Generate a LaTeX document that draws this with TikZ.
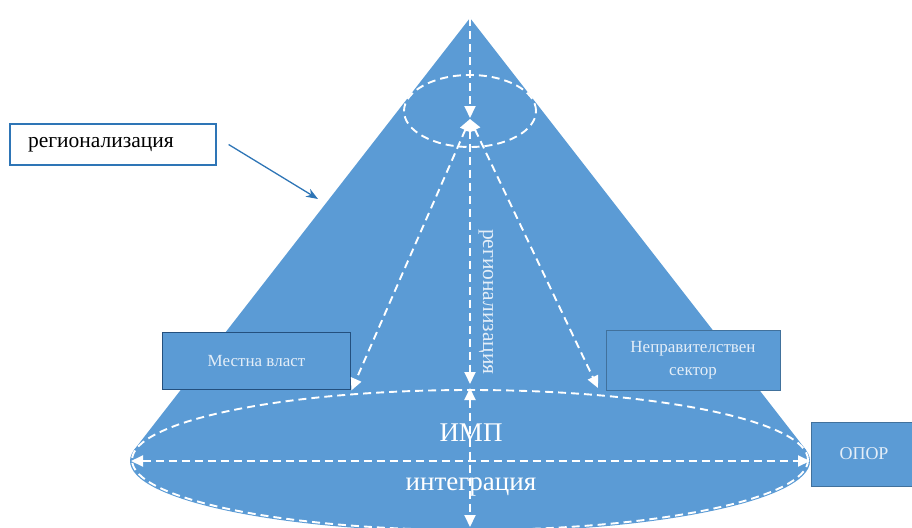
\documentclass[tikz,border=0pt]{standalone}
\usepackage{fontspec}
\setmainfont{Liberation Serif}
\usetikzlibrary{arrows.meta}

\definecolor{conefill}{HTML}{5B9BD5}
\definecolor{boxline}{HTML}{41719C}
\definecolor{darkline}{HTML}{24507E}
\definecolor{callout}{HTML}{2E75B6}
\definecolor{lighttext}{HTML}{E4EEF8}

\tikzset{
  wdash/.style={draw=white, dash pattern=on 8pt off 5pt, line width=1.9pt},
  warrow/.style={wdash, {Triangle[length=12pt,width=11pt]}-{Triangle[length=12pt,width=11pt]}},
  box/.style={draw=boxline, fill=conefill, line width=1pt, text=lighttext, inner sep=2pt, align=center},
}

\begin{document}
\begin{tikzpicture}[x=1pt,y=1pt]
				\useasboundingbox (0,-527) rectangle (912,0);

				% cone
				\coordinate (apex) at (470,-18);
				\coordinate (tl) at (134,-450);
				\coordinate (tr) at (806,-450);
				\fill[conefill] (apex) -- (tl) -- (tr) -- cycle;
				\fill[conefill] (470,-461) ellipse [x radius=340, y radius=71];

				% Dashed lines
				\draw[wdash] (470,-111) ellipse [x radius=66, y radius=36];
				\draw[wdash] (470,-460) ellipse [x radius=338, y radius=70];

				% boxes
				\node[box, draw=darkline, line width=1.8pt, minimum width=188pt, minimum height=57pt, font=\fontsize{17}{20}\selectfont] (mestna) at (256.5,-361) {Местна власт};
				\node[box, minimum width=174pt, minimum height=60pt, font=\fontsize{17}{23}\selectfont] (nepr) at (693,-360) {Неправителствен\\сектор};
				\node[box, minimum width=106pt, minimum height=64pt, font=\fontsize{18}{20}\selectfont] (opor) at (864,-454) {ОПОР};
				\node[draw=callout, line width=1.2pt, fill=white, text width=170pt, inner xsep=18pt, align=left, minimum height=41pt, font=\fontsize{21.5}{24}\selectfont] (reg) at (113,-144.5) {регионализация};

				% arrows
				\coordinate (hubtop) at (470,-118);
				\coordinate (hub) at (470,-119);
				\coordinate (mid) at (470,-384);
				\coordinate (base) at (470,-388);
				\coordinate (bot) at (470,-527);
				\coordinate (west) at (131,-461);
				\coordinate (east) at (810,-461);
				\coordinate (nepr tip) at (598,-388);
				\coordinate (slope) at (318,-199);
				\draw[wdash, -{Triangle[length=12pt,width=11pt]}] (apex) -- (hubtop);
				\draw[warrow] (hub) -- (mestna.south east);
				\draw[warrow] (hub) -- (mid);
				\draw[warrow] (hub) -- (nepr tip);
				\draw[warrow] (base) -- (bot);
				\draw[warrow] (west) -- (east);
				\draw[callout, line width=1.3pt, -{Stealth[length=12pt,width=9pt]}] ([xshift=12pt]reg.east) -- (slope);

				% labels
				\node[text=lighttext, rotate=-90, font=\fontsize{21.5}{24}\selectfont] (vreg) at (486,-302) {регионализация};
				\node[text=white, font=\fontsize{27}{30}\selectfont] (imp) at (471,-433) {ИМП};
				\node[text=white, font=\fontsize{27}{30}\selectfont] (integ) at (471,-487) {интеграция};
			\end{tikzpicture}
\end{document}
